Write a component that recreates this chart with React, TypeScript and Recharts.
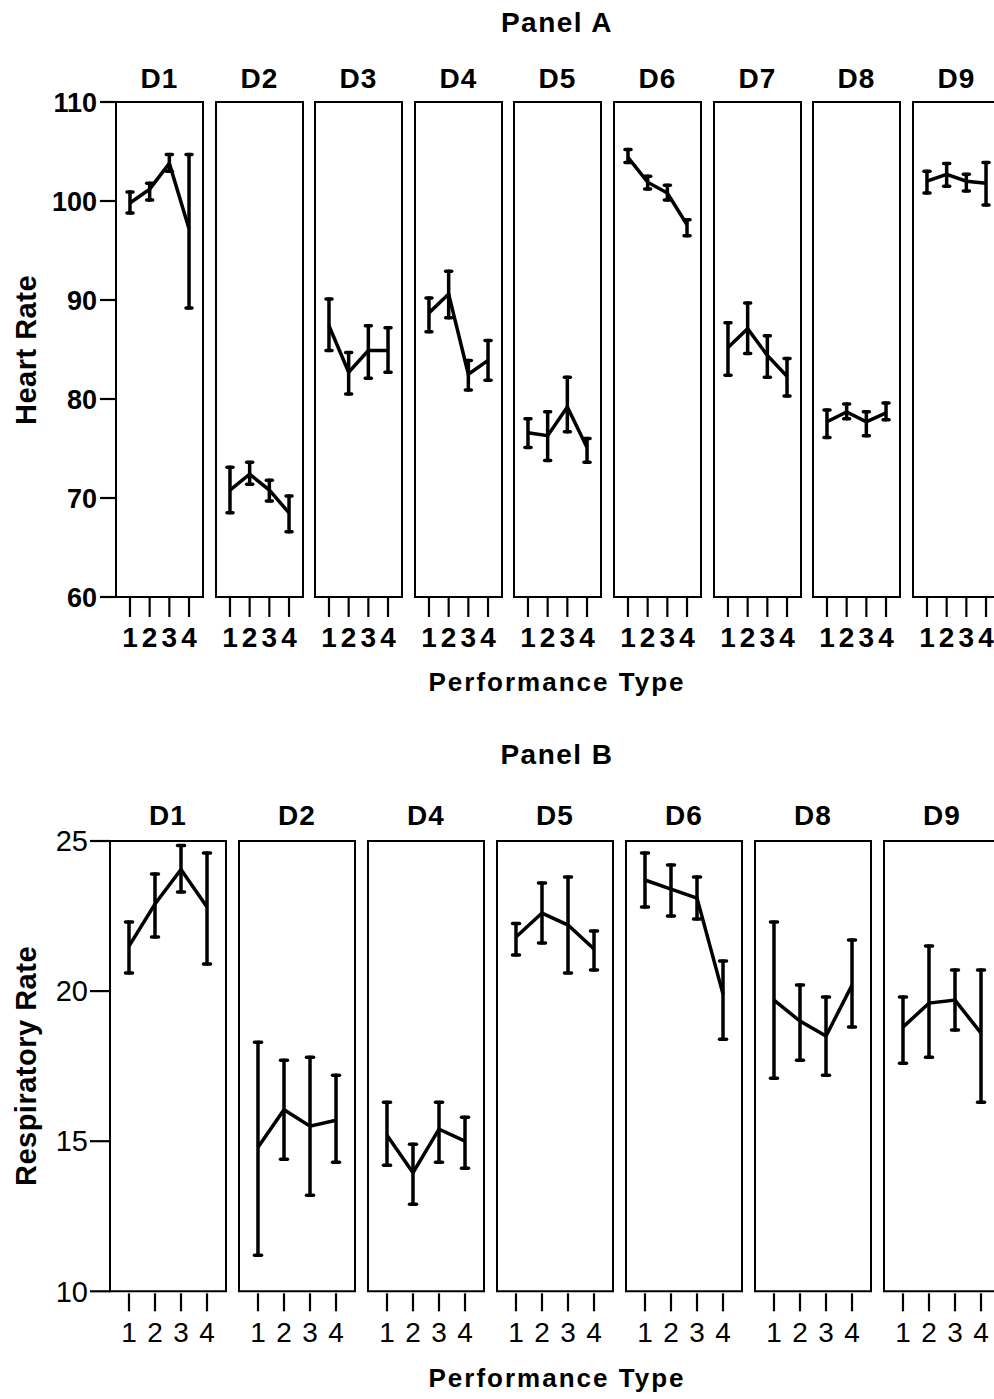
import React from "react";
import { LineChart, Line, XAxis, YAxis, ErrorBar, ReferenceArea } from "recharts";

const FONT = '"Liberation Sans", Arial, Helvetica, sans-serif';

// performance types on the x axis of every facet
const performanceTypes = [1, 2, 3, 4];

// Panel A: heart rate
const hrDevices = ["D1", "D2", "D3", "D4", "D5", "D6", "D7", "D8", "D9"];
const hrMean = [
  [99.8, 101.2, 103.8, 97.2],
  [70.8, 72.4, 70.8, 68.5],
  [87.4, 82.7, 84.9, 84.9],
  [88.7, 90.6, 82.5, 83.9],
  [76.6, 76.3, 79.2, 75.1],
  [104.4, 101.9, 100.8, 97.6],
  [85.2, 87.1, 84.4, 82.3],
  [77.7, 78.7, 77.7, 78.6],
  [102.0, 102.7, 102.0, 101.8],
];
const hrLow = [
  [98.8, 100.1, 103.0, 89.2],
  [68.5, 71.4, 69.7, 66.6],
  [84.9, 80.5, 82.1, 82.7],
  [86.8, 88.2, 80.9, 81.9],
  [75.1, 73.8, 76.7, 73.6],
  [103.9, 101.2, 100.1, 96.5],
  [82.4, 84.6, 82.2, 80.3],
  [76.1, 78.0, 76.3, 77.9],
  [100.8, 101.5, 101.0, 99.6],
];
const hrHigh = [
  [100.9, 101.8, 104.7, 104.7],
  [73.1, 73.6, 71.8, 70.2],
  [90.1, 84.7, 87.4, 87.2],
  [90.2, 92.9, 83.9, 85.9],
  [78.0, 78.7, 82.2, 76.0],
  [105.2, 102.5, 101.6, 98.1],
  [87.7, 89.7, 86.4, 84.1],
  [78.9, 79.5, 78.7, 79.6],
  [103.0, 103.8, 102.7, 103.9],
];
const hrTicks = [60, 70, 80, 90, 100, 110];

// Panel B: respiratory rate
const rrDevices = ["D1", "D2", "D4", "D5", "D6", "D8", "D9"];
const rrMean = [
  [21.5, 22.9, 24.05, 22.8],
  [14.8, 16.05, 15.5, 15.7],
  [15.2, 13.95, 15.4, 15.0],
  [21.8, 22.6, 22.2, 21.4],
  [23.7, 23.4, 23.1, 19.9],
  [19.7, 19.0, 18.5, 20.2],
  [18.8, 19.6, 19.7, 18.6],
];
const rrLow = [
  [20.6, 21.8, 23.3, 20.9],
  [11.2, 14.4, 13.2, 14.3],
  [14.2, 12.9, 14.3, 14.1],
  [21.2, 21.6, 20.6, 20.7],
  [22.8, 22.5, 22.4, 18.4],
  [17.1, 17.7, 17.2, 18.8],
  [17.6, 17.8, 18.7, 16.3],
];
const rrHigh = [
  [22.3, 23.9, 24.85, 24.6],
  [18.3, 17.7, 17.8, 17.2],
  [16.3, 14.9, 16.3, 15.8],
  [22.25, 23.6, 23.8, 22.0],
  [24.6, 24.2, 23.8, 21.0],
  [22.3, 20.2, 19.8, 21.7],
  [19.8, 21.5, 20.7, 20.7],
];
const rrTicks = [10, 15, 20, 25];

type PanelCfg = {
  left0: number;
  step: number;
  boxW: number;
  top: number;
  bottom: number;
  xDomain: [number, number];
  yDomain: [number, number];
  yTicks: number[];
  yTickSize: number;
  yTickMargin: number;
  yLabelSize: number;
  yLabelWeight: string;
  xLabelWeight: string;
  tickTop: number;
  tickBottom: number;
  labelDy: number;
  titleGap: number;
  capW: number;
};

const panelA: PanelCfg = {
  left0: 116,
  step: 99.6,
  boxW: 87,
  top: 102,
  bottom: 597,
  xDomain: [0.29, 4.71],
  yDomain: [60, 110],
  yTicks: hrTicks,
  yTickSize: 16,
  yTickMargin: 3,
  yLabelSize: 27,
  yLabelWeight: "bold",
  xLabelWeight: "bold",
  tickTop: 1,
  tickBottom: 20,
  labelDy: 50,
  titleGap: 14,
  capW: 3,
};

const panelB: PanelCfg = {
  left0: 110,
  step: 129,
  boxW: 116,
  top: 840.7,
  bottom: 1291,
  xDomain: [0.27, 4.73],
  yDomain: [10, 25],
  yTicks: rrTicks,
  yTickSize: 20,
  yTickMargin: 2,
  yLabelSize: 29,
  yLabelWeight: "normal",
  xLabelWeight: "normal",
  tickTop: 2,
  tickBottom: 20,
  labelDy: 51,
  titleGap: 15.5,
  capW: 3.5,
};

function XTick(props: any) {
  const { x, y, payload, cfg } = props;
  return (
    <g>
      <line x1={x} x2={x} y1={y + cfg.tickTop} y2={y + cfg.tickBottom} stroke="#000" strokeWidth={2.2} />
      <text
        x={x}
        y={y + cfg.labelDy}
        textAnchor="middle"
        fill="#000"
        fontFamily={FONT}
        fontSize={28}
        fontWeight={cfg.xLabelWeight}
      >
        {payload.value}
      </text>
    </g>
  );
}

function Facet({ device, means, lows, highs, cfg, index }: any) {
  const data = performanceTypes.map((p, i) => ({
    x: p,
    y: means[i],
    err: [means[i] - lows[i], highs[i] - means[i]],
  }));
  const first = index === 0;
  const yW = first ? 100 : 0;
  const mT = 46;
  const mL = 4;
  const mR = 4;
  const xH = 64;
  const plotH = cfg.bottom - cfg.top;
  const boxLeft = cfg.left0 + index * cfg.step;
  return (
    <div style={{ position: "absolute", left: boxLeft - mL - yW, top: cfg.top - mT }}>
      <LineChart
        width={mL + yW + cfg.boxW + mR}
        height={mT + plotH + xH}
        data={data}
        margin={{ top: mT, right: mR, bottom: 0, left: mL }}
      >
        <XAxis
          type="number"
          dataKey="x"
          domain={cfg.xDomain}
          ticks={performanceTypes}
          interval={0}
          allowDataOverflow
          axisLine={false}
          tickLine={false}
          tickSize={0}
          tickMargin={0}
          height={xH}
          tick={<XTick cfg={cfg} />}
        />
        <YAxis
          type="number"
          domain={cfg.yDomain}
          ticks={cfg.yTicks}
          interval={0}
          allowDataOverflow
          hide={!first}
          width={yW}
          axisLine={false}
          tickSize={cfg.yTickSize}
          tickMargin={cfg.yTickMargin}
          tickLine={{ stroke: "#000", strokeWidth: 2.2 }}
          tick={{
            fill: "#000",
            fontSize: cfg.yLabelSize,
            fontFamily: FONT,
            fontWeight: cfg.yLabelWeight,
          }}
        />
        <ReferenceArea
          x1={cfg.xDomain[0]}
          x2={cfg.xDomain[1]}
          y1={cfg.yDomain[0]}
          y2={cfg.yDomain[1]}
          fill="none"
          fillOpacity={0}
          stroke="#000"
          strokeWidth={2}
          ifOverflow="visible"
          label={{
            value: device,
            position: "top",
            offset: cfg.titleGap,
            fill: "#000",
            fontSize: 28,
            fontWeight: "bold",
            fontFamily: FONT,
            letterSpacing: 1,
          }}
        />
        <Line
          type="linear"
          dataKey="y"
          stroke="#000"
          strokeWidth={3.5}
          dot={false}
          activeDot={false}
          isAnimationActive={false}
        >
          <ErrorBar
            dataKey="err"
            direction="y"
            width={cfg.capW}
            stroke="#000"
            strokeWidth={3.5}
            strokeLinecap="round"
          />
        </Line>
      </LineChart>
    </div>
  );
}

function Title({ text, cx, baseline, size, spacing }: any) {
  return (
    <div
      style={{
        position: "absolute",
        left: cx - 300,
        width: 600,
        top: baseline - 0.8465 * size,
        fontSize: size,
        lineHeight: `${size}px`,
        fontWeight: "bold",
        letterSpacing: spacing,
        textAlign: "center",
        whiteSpace: "nowrap",
      }}
    >
      {text}
    </div>
  );
}

function RotatedTitle({ text, cx, cy, size }: any) {
  return (
    <div
      style={{
        position: "absolute",
        left: cx,
        top: cy,
        fontSize: size,
        lineHeight: `${size}px`,
        fontWeight: "bold",
        whiteSpace: "nowrap",
        transform: "translate(-50%, -50%) rotate(-90deg)",
        letterSpacing: 0.5,
      }}
    >
      {text}
    </div>
  );
}

export default function App() {
  return (
    <div
      style={{
        position: "absolute",
        left: 0,
        top: 0,
        width: 994,
        height: 1399,
        overflow: "hidden",
        background: "#fff",
        color: "#000",
        fontFamily: FONT,
      }}
    >
      <Title text="Panel A" cx={557} baseline={33} size={28} spacing={1.5} />
      {hrDevices.map((d, i) => (
        <Facet key={d} device={d} index={i} means={hrMean[i]} lows={hrLow[i]} highs={hrHigh[i]} cfg={panelA} />
      ))}
      <Title text="Performance Type" cx={557} baseline={691} size={26} spacing={2} />
      <RotatedTitle text="Heart Rate" cx={26} cy={350} size={29} />

      <Title text="Panel B" cx={557} baseline={765} size={28} spacing={1.5} />
      {rrDevices.map((d, i) => (
        <Facet key={d} device={d} index={i} means={rrMean[i]} lows={rrLow[i]} highs={rrHigh[i]} cfg={panelB} />
      ))}
      <Title text="Performance Type" cx={557} baseline={1387} size={26} spacing={2} />
      <RotatedTitle text="Respiratory Rate" cx={26} cy={1066} size={29} />
    </div>
  );
}
